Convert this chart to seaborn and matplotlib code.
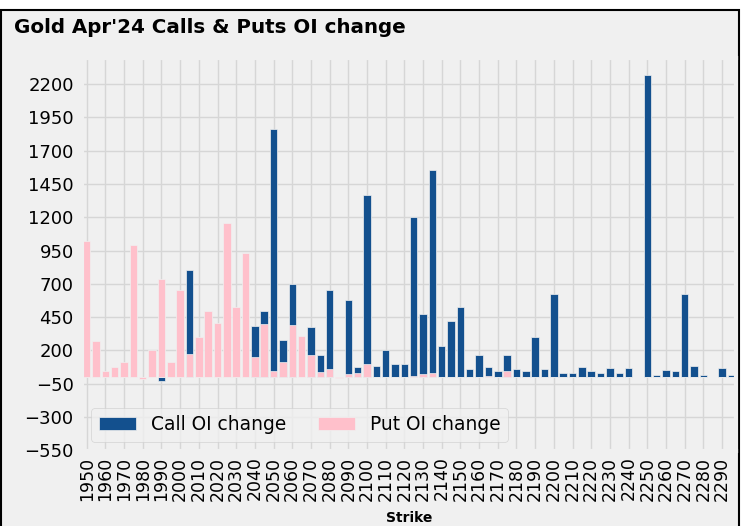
import numpy as np
import matplotlib
matplotlib.use('Agg')
import matplotlib.pyplot as plt
from matplotlib.patches import Rectangle
import pandas as pd
import seaborn as sns

# Strikes and OI change
strikes = list(range(1950, 2300, 5))
call_oi = [0, 0, 0, 0, 0, 0, 0, 0, -30, 0,
           0, 800, 0, 0, 0, 0, 0, 0, 380, 495,
           1860, 280, 695, 0, 375, 165, 655, 0, 575, 75,
           1370, 85, 205, 100, 100, 1200, 470, 1555, 230, 420,
           525, 60, 165, 75, 45, 165, 60, 45, 300, 60,
           620, 30, 30, 75, 45, 30, 70, 30, 70, 0,
           2270, 15, 55, 45, 625, 85, 15, 0, 70, 15]
put_oi = [1025, 270, 45, 75, 110, 990, -15, 200, 735, 110,
          655, 170, 300, 495, 405, 1155, 525, 930, 150, 400,
          45, 110, 390, 310, 165, 35, 60, -10, 25, 30,
          100, 0, 0, 0, 0, 10, 20, 30, 0, 0,
          0, 0, 0, 10, 0, 45, 0, 0, 0, 0,
          0, 0, 0, 0, 0, 0, 0, 0, 0, 0,
          0, 0, 0, 0, 0, 0, 0, 0, 0, 0]
yticks = list(range(-550, 2201, 250))

df = pd.DataFrame({'Strike': [str(s) for s in strikes],
                   'Call': call_oi, 'Put': put_oi})

plt.style.use('fivethirtyeight')
plt.rcParams['font.family'] = ['DejaVu Sans']

fig = plt.figure(figsize=(7.41, 5.26), dpi=100, facecolor='white')
# grey panel with a dark frame, like the screenshot
fig.patches.append(Rectangle((0.002, -0.01), 0.995, 0.991, transform=fig.transFigure,
                             facecolor='#f0f0f0', edgecolor='black', linewidth=1.5, zorder=-5))
ax = fig.add_axes([0.1107, 0.1426, 0.8826, 0.7471])

sns.barplot(data=df, x='Strike', y='Call', color='#13508e', saturation=1,
            width=0.8, edgecolor='#f0f0f0', linewidth=0.5, label='Call OI change', ax=ax)
sns.barplot(data=df, x='Strike', y='Put', color='pink', saturation=1,
            width=0.8, edgecolor='#f0f0f0', linewidth=0.5, label='Put OI change', ax=ax)

ax.set_yticks(yticks)
ax.set_ylim(-555, 2395)
ax.set_xlim(-0.5, len(strikes) - 0.5)
ax.set_xticks(range(0, len(strikes), 2))
ax.set_xticklabels([str(s) for s in strikes[::2]], rotation=90)
ax.grid(True, axis='both', color='#d6d6d6', linewidth=1)
ax.set_axisbelow(True)
ax.tick_params(axis='x', labelsize=12.5, pad=4)
ax.tick_params(axis='y', labelsize=13, pad=6)
ax.set_xlabel('Strike', fontsize=10, fontweight='bold', labelpad=7)
ax.set_ylabel('')
ax.legend(loc='lower left', ncol=2, fontsize=13.4, columnspacing=1.7)

fig.text(0.019, 0.948, "Gold Apr'24 Calls & Puts OI change", fontsize=14.3,
         fontweight='bold', ha='left', va='center')

fig.savefig('out.png', dpi=100, facecolor='white')
